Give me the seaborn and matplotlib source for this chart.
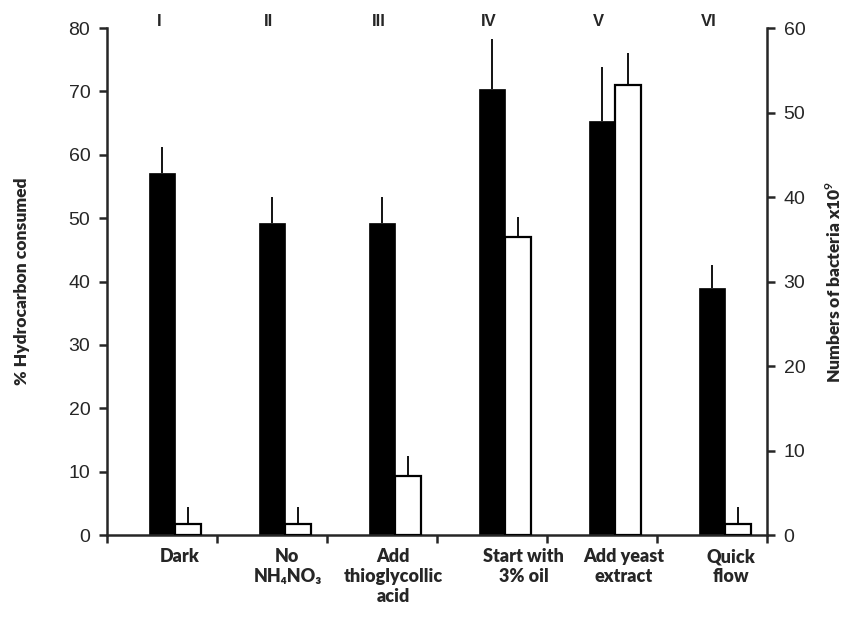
import numpy as np
import matplotlib
matplotlib.use("Agg")
import matplotlib.pyplot as plt
import matplotlib.transforms as mtransforms
import seaborn as sns

# data
numerals = ["I", "II", "III", "IV", "V", "VI"]
conditions = ["Dark", "No\nNH\u2084NO\u2083", "Add\nthioglycollic\nacid",
              "Start with\n3% oil", "Add yeast\nextract", "Quick\nflow"]
hydrocarbon = [57.2, 49.3, 49.3, 70.4, 65.3, 39.0]       # left axis, %
hydrocarbon_err = [4.0, 4.1, 4.1, 7.9, 8.5, 3.6]
bacteria = [1.3, 1.3, 7.0, 35.3, 53.2, 1.3]              # right axis, x10^9
bacteria_err = [2.0, 2.0, 2.4, 2.3, 3.9, 2.0]

sns.set_style("ticks")
plt.rcParams["font.family"] = ["Liberation Sans", "DejaVu Sans"]
plt.rcParams["mathtext.fontset"] = "custom"
plt.rcParams["mathtext.bf"] = "Lato:bold"
plt.rcParams["mathtext.rm"] = "Lato:bold"
label_font = ["Lato", "DejaVu Sans"]

fig = plt.figure(figsize=(8.61, 6.2), dpi=100)
ax = fig.add_axes([0.1243, 0.137, 0.7665, 0.8178])
ax2 = ax.twinx()

bw = 0.236
pos = np.arange(len(numerals))

sns.barplot(x=pos, y=hydrocarbon, native_scale=True, width=bw, color="black",
            saturation=1, edgecolor="black", linewidth=0.5, ax=ax)
ax.errorbar(pos, hydrocarbon, yerr=[np.zeros(len(pos)), hydrocarbon_err],
            fmt="none", ecolor="black", elinewidth=1.3, capsize=0)

sns.barplot(x=pos + bw, y=bacteria, native_scale=True, width=bw, color="white",
            saturation=1, edgecolor="black", linewidth=1.6, ax=ax2)
ax2.errorbar(pos + bw, bacteria, yerr=[np.zeros(len(pos)), bacteria_err],
             fmt="none", ecolor="black", elinewidth=1.3, capsize=0)

ax.set_xlim(-0.5, 5.5)
ax2.set_xlim(-0.5, 5.5)
ax.set_ylim(0, 80)
ax2.set_ylim(0, 60)
ax.set_yticks(range(0, 81, 10))
ax2.set_yticks(range(0, 61, 10))
ax.set_xticks(np.arange(-0.5, 6, 1))
ax.set_xticklabels([])

for a in (ax, ax2):
    a.spines["top"].set_visible(False)
    for s in a.spines.values():
        s.set_linewidth(1.8)
ax.spines["right"].set_visible(False)
ax2.spines["left"].set_visible(False)
ax2.spines["bottom"].set_visible(False)

ax.tick_params(axis="both", direction="out", length=6, width=1.8, labelsize=14, pad=6)
ax2.tick_params(axis="y", direction="out", length=6, width=1.8, labelsize=14, pad=6)

ax.set_xlabel("")
ax.set_ylabel("% Hydrocarbon consumed", family=label_font, fontweight="heavy",
              fontsize=12.5, labelpad=28)
ax2.set_ylabel(r"Numbers of bacteria x10$^{9}$", family=label_font, fontweight="heavy",
               fontsize=12.5, labelpad=14)

trans = mtransforms.blended_transform_factory(ax.transData, ax.transAxes)
for i, n in enumerate(numerals):
    ax.text(i - 0.03, 1.012, n, transform=trans, ha="center", va="center",
            fontsize=12, fontweight="bold")

label_x = [0.16, 1.14, 2.1, 3.29, 4.2, 5.17]
for x, lab in zip(label_x, conditions):
    ax.text(x, -0.026, lab, transform=trans, ha="center", va="top",
            family=label_font, fontweight="heavy", fontsize=13, linespacing=1.2)

fig.savefig("out.png", dpi=100)
